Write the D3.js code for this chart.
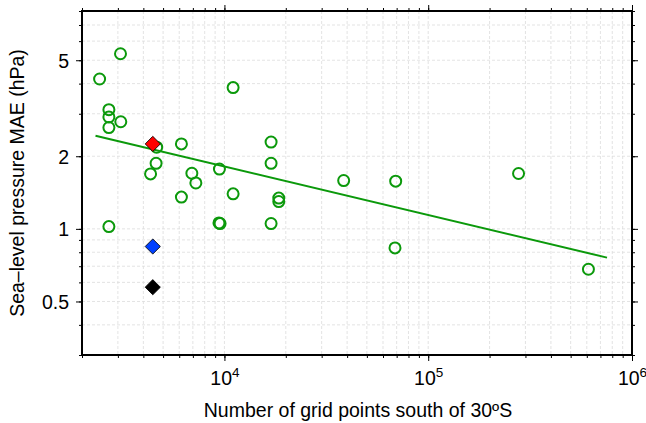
<!DOCTYPE html>
<html>
<head>
<meta charset="utf-8">
<script src="https://cdn.jsdelivr.net/npm/d3@7"></script>
<style>
  html, body { margin: 0; padding: 0; background: #fff; }
  svg { display: block; font-family: "Liberation Sans", Arial, Helvetica, sans-serif; }
</style>
</head>
<body>
<svg id="chart" width="646" height="423"></svg>
<script>
// ---- Data ----
const gridPoints = [3090, 2440, 2710, 2710, 2710, 3100, 4650, 6150, 4620, 4340, 6920, 7240, 6150, 2710,
                    11030, 16940, 16940, 9450, 11030, 18480, 18480, 9400, 9520, 16940,
                    38470, 69240, 277500, 68700, 611200];
const mae        = [5.32, 4.18, 3.12, 2.91, 2.63, 2.78, 2.18, 2.25, 1.87, 1.69, 1.70, 1.55, 1.354, 1.022,
                    3.85, 2.29, 1.87, 1.77, 1.397, 1.341, 1.298, 1.058, 1.052, 1.052,
                    1.586, 1.577, 1.696, 0.834, 0.680];
const specialX     = [4450, 4450, 4450];
const specialY     = [2.25, 0.845, 0.573];
const specialColor = ["#ff0000", "#0040ff", "#000000"];
const fitX = [2330, 754000];
const fitY = [2.43, 0.76];
const xMajorTicks = [1e4, 1e5, 1e6];
const xMajorExp   = ["4", "5", "6"];
const yMajorTicks = [0.5, 1, 2, 5];
const yMajorLabels = ["0.5", "1", "2", "5"];
const xTitle = "Number of grid points south of 30ºS";
const yTitle = "Sea–level pressure MAE (hPa)";

// ---- Layout ----
const W = 646, H = 423;
const m = { left: 82, right: 14, top: 11, bottom: 68 };
const pw = W - m.left - m.right, ph = H - m.top - m.bottom;
const green = "#0b990b";
const fs = 19.5;

const svg = d3.select("#chart");
const g = svg.append("g").attr("transform", `translate(${m.left},${m.top})`);

const x = d3.scaleLog().domain([2000, 1e6]).range([0, pw]);
const y = d3.scaleLog().domain([0.3, 8]).range([ph, 0]);

const xMinor = x.ticks();
const yMinor = y.ticks();

// grid
const grid = g.append("g").attr("stroke", "#dcdcdc").attr("stroke-width", 0.8).attr("stroke-dasharray", "3,2");
grid.selectAll("line.gx").data(xMinor).join("line")
  .attr("x1", d => x(d)).attr("x2", d => x(d)).attr("y1", 0).attr("y2", ph);
grid.selectAll("line.gy").data(yMinor).join("line")
  .attr("y1", d => y(d)).attr("y2", d => y(d)).attr("x1", 0).attr("x2", pw);

// axes (minor + major on all four sides)
function styleAxis(sel) {
  sel.select(".domain").remove();
  sel.selectAll(".tick line").attr("stroke", "#000").attr("stroke-width", 1);
}
const fmtNone = () => "";
g.append("g").attr("transform", `translate(0,${ph})`).call(d3.axisBottom(x).tickValues(xMinor).tickSize(3).tickFormat(fmtNone)).call(styleAxis);
g.append("g").call(d3.axisTop(x).tickValues(xMinor).tickSize(3).tickFormat(fmtNone)).call(styleAxis);
g.append("g").call(d3.axisLeft(y).tickValues(yMinor).tickSize(3).tickFormat(fmtNone)).call(styleAxis);
g.append("g").attr("transform", `translate(${pw},0)`).call(d3.axisRight(y).tickValues(yMinor).tickSize(3).tickFormat(fmtNone)).call(styleAxis);

const xb = g.append("g").attr("transform", `translate(0,${ph})`)
  .call(d3.axisBottom(x).tickValues(xMajorTicks).tickSize(6).tickPadding(6).tickFormat(fmtNone)).call(styleAxis);
g.append("g").call(d3.axisTop(x).tickValues(xMajorTicks).tickSize(6).tickFormat(fmtNone)).call(styleAxis);
const yl = g.append("g")
  .call(d3.axisLeft(y).tickValues(yMajorTicks).tickSize(6).tickPadding(7).tickFormat((d, i) => yMajorLabels[i])).call(styleAxis);
g.append("g").attr("transform", `translate(${pw},0)`).call(d3.axisRight(y).tickValues(yMajorTicks).tickSize(6).tickFormat(fmtNone)).call(styleAxis);

yl.selectAll(".tick text").attr("font-size", fs).attr("fill", "#000").attr("font-family", null).attr("dy", "0.36em");

xb.selectAll(".tick text").each(function(d, i) {
  const t = d3.select(this);
  t.text(null).attr("font-size", fs).attr("fill", "#000").attr("font-family", null).attr("y", 29.5).attr("dy", null);
  t.append("tspan").text("10");
  t.append("tspan").attr("font-size", 13.5).attr("dy", -8).text(xMajorExp[i]);
});

// fit line
g.append("path")
  .datum(fitX.map((v, i) => [v, fitY[i]]))
  .attr("fill", "none").attr("stroke", green).attr("stroke-width", 2)
  .attr("d", d3.line().x(d => x(d[0])).y(d => y(d[1])));

// circles
g.selectAll("circle.pt").data(gridPoints).join("circle")
  .attr("class", "pt")
  .attr("cx", d => x(d)).attr("cy", (d, i) => y(mae[i]))
  .attr("r", 5.5).attr("fill", "none").attr("stroke", green).attr("stroke-width", 2);

// diamonds
const diamond = d3.symbol().type(d3.symbolSquare).size(115);
g.selectAll("path.dm").data(specialX).join("path")
  .attr("class", "dm")
  .attr("transform", (d, i) => `translate(${x(d)},${y(specialY[i])}) rotate(45)`)
  .attr("d", diamond)
  .attr("fill", (d, i) => specialColor[i]).attr("stroke", "#000").attr("stroke-width", 0.8);

// frame
g.append("rect").attr("x", 0).attr("y", 0).attr("width", pw).attr("height", ph)
  .attr("fill", "none").attr("stroke", "#000").attr("stroke-width", 2);

// titles
svg.append("text").attr("x", m.left + pw / 2 + 1).attr("y", 417).attr("text-anchor", "middle")
  .attr("font-size", fs).text(xTitle);
svg.append("text").attr("transform", `translate(24,${m.top + ph / 2}) rotate(-90)`)
  .attr("text-anchor", "middle").attr("font-size", fs).text(yTitle);
</script>
</body>
</html>
